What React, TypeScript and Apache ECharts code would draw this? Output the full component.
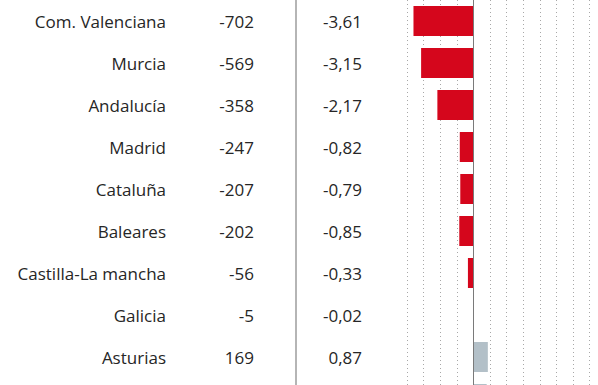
import React, { useEffect, useRef } from "react";
import * as echarts from "echarts";

const regions = [
  "Com. Valenciana",
  "Murcia",
  "Andalucía",
  "Madrid",
  "Cataluña",
  "Baleares",
  "Castilla-La mancha",
  "Galicia",
  "Asturias",
  "",
];
const absValues = ["-702", "-569", "-358", "-247", "-207", "-202", "-56", "-5", "169", ""];
const pctValues = [-3.61, -3.15, -2.17, -0.82, -0.79, -0.85, -0.33, -0.02, 0.87, 0.8];

const RED = "#d5061c";
const GREY = "#b3c0c8";
const TEXT = "#262626";
const FONT = "Open Sans";

export default function App() {
  const ref = useRef<HTMLDivElement>(null);
  useEffect(() => {
    if (!ref.current) return;
    const chart = echarts.init(ref.current, null, { renderer: "svg" });
    const labelBase = {
      color: TEXT,
      fontFamily: FONT,
      fontSize: 17,
      align: "right" as const,
    };
    const catAxis = (margin: number, fmt: (v: string, i: number) => string) => ({
      type: "category" as const,
      data: regions,
      inverse: true,
      position: "left" as const,
      axisLine: { show: false, onZero: false },
      axisTick: { show: false },
      splitLine: { show: false },
      axisLabel: { ...labelBase, margin, formatter: fmt, interval: 0 },
    });
    chart.setOption({
      animation: false,
      backgroundColor: "#ffffff",
      grid: { left: 407, top: 0, width: 199.2, height: 420, containLabel: false },
      xAxis: {
        type: "value",
        min: -4,
        max: 8,
        interval: 1,
        axisLabel: { show: false },
        axisLine: { show: false },
        axisTick: { show: false },
        splitLine: { show: true, lineStyle: { color: "#a8a8a8", type: [1, 3], width: 1 } },
      },
      yAxis: [
        catAxis(241, (v: string) => v),
        catAxis(153, (_v: string, i: number) => absValues[i] ?? ""),
        catAxis(45, (_v: string, i: number) =>
          regions[i] === "" ? "" : pctValues[i].toFixed(2).replace(".", ",")
        ),
      ],
      series: [
        {
          type: "bar",
          yAxisIndex: 0,
          barWidth: 30,
          data: pctValues.map((v) => ({
            value: v,
            itemStyle: { color: v < 0 ? RED : GREY },
          })),
          markLine: {
            silent: true,
            symbol: "none",
            label: { show: false },
            lineStyle: { color: "#7a7a7a", type: "solid", width: 1 },
            data: [{ xAxis: 0 }],
          },
        },
      ],
      graphic: [
        {
          type: "line",
          shape: { x1: 296, y1: 0, x2: 296, y2: 440 },
          style: { stroke: "#b5b5b5", lineWidth: 2 },
        },
      ],
    });
    return () => chart.dispose();
  }, []);
  return (
    <div
      style={{
        position: "absolute",
        left: 0,
        top: 0,
        width: 598,
        height: 385,
        overflow: "hidden",
        background: "#fff",
      }}
    >
      <div ref={ref} style={{ width: 620, height: 440 }} />
    </div>
  );
}
